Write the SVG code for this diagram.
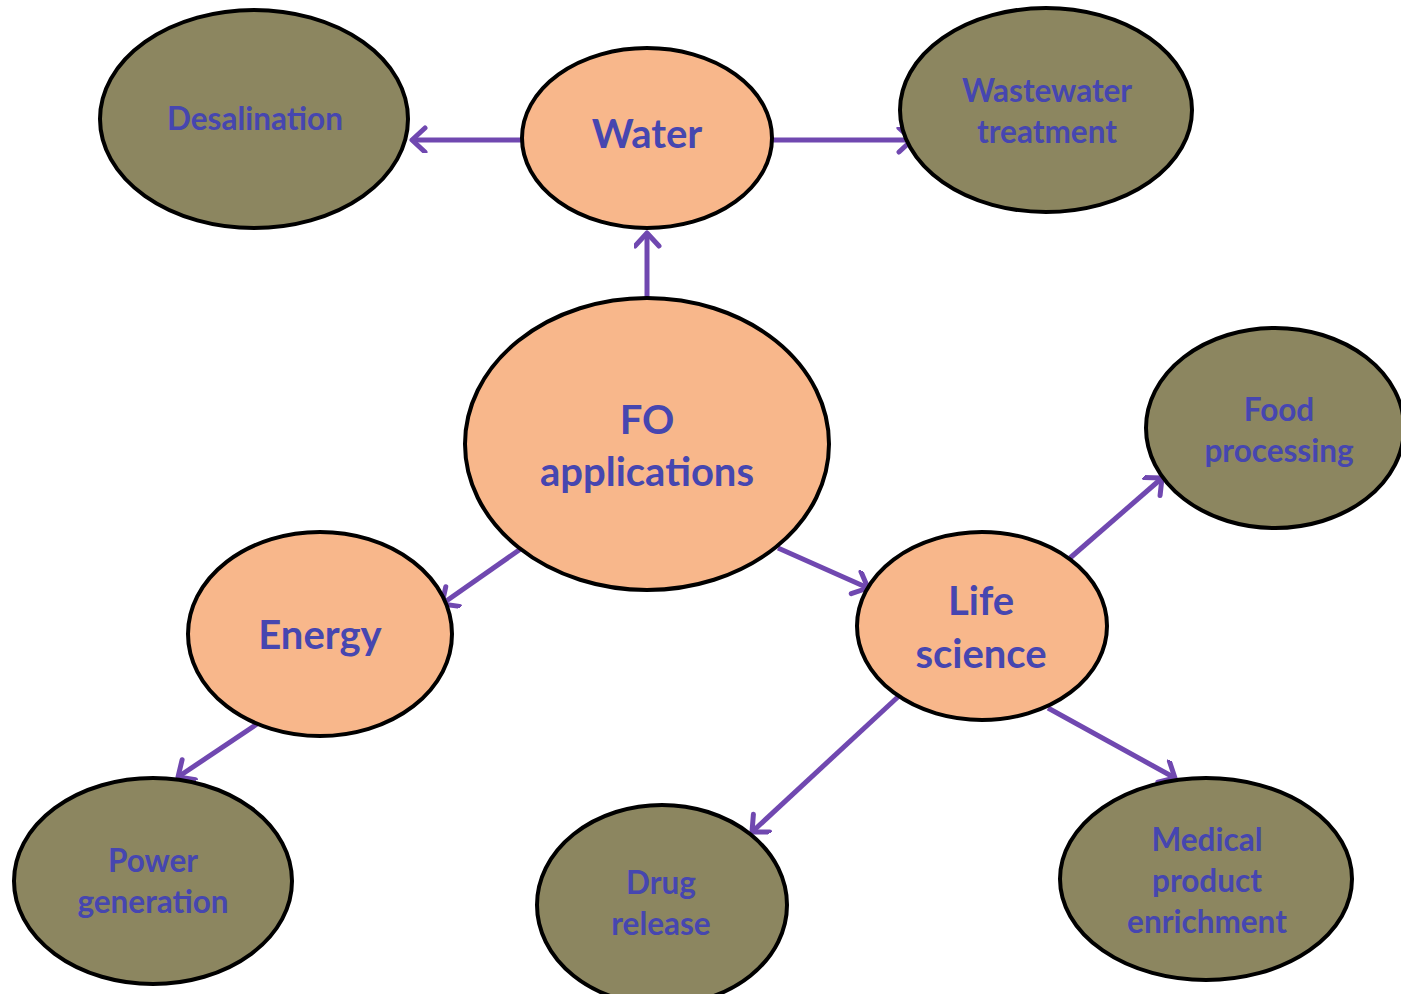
<svg xmlns="http://www.w3.org/2000/svg" width="1401" height="994" viewBox="0 0 1401 994">
<style>
.leaf{fill:#8c8660;stroke:#000;stroke-width:4}
.hub{fill:#f8b78b;stroke:#000;stroke-width:4}
.t{font-family:Lato,"Open Sans","Liberation Sans",sans-serif;font-weight:bold;fill:#4646b0;text-anchor:middle}
.s{font-size:31.5px}
.b{font-size:40px}
.c{stroke:#7048b0;stroke-width:5;fill:none;marker-end:url(#ah)}
</style>
<defs>
<marker id="ah" markerUnits="userSpaceOnUse" markerWidth="32" markerHeight="32" refX="17" refY="13" orient="auto">
<path d="M4,1 L17,13 L4,25" fill="none" stroke="#7048b0" stroke-width="5" stroke-linecap="round" stroke-linejoin="round"/>
</marker>
</defs>
<rect width="1401" height="994" fill="#fff"/>
<g id="connectors">
<line class="c" x1="522" y1="140" x2="412" y2="140"/>
<line class="c" x1="772" y1="140" x2="912" y2="140"/>
<line class="c" x1="647" y1="298" x2="647" y2="233"/>
<line class="c" x1="522" y1="548" x2="442" y2="604"/>
<line class="c" x1="778" y1="548" x2="868" y2="588"/>
<line class="c" x1="1070" y1="558" x2="1162" y2="478"/>
<line class="c" x1="260" y1="722" x2="178" y2="777"/>
<line class="c" x1="900" y1="695" x2="752" y2="832"/>
<line class="c" x1="1048" y1="708" x2="1175" y2="778"/>
</g>
<g id="desalination"><ellipse class="leaf" cx="254" cy="119" rx="154" ry="109"/><text class="t s" x="255" y="130">Desalination</text></g>
<g id="water"><ellipse class="hub" cx="647" cy="138" rx="125" ry="90"/><text class="t b" x="647" y="148">Water</text></g>
<g id="wastewater"><ellipse class="leaf" cx="1046" cy="110" rx="146" ry="102"/><text class="t s" x="1047" y="102">Wastewater</text><text class="t s" x="1047" y="143">treatment</text></g>
<g id="fo"><ellipse class="hub" cx="647" cy="444" rx="182" ry="146"/><text class="t b" x="647" y="434">FO</text><text class="t b" x="647" y="486">applications</text></g>
<g id="food"><ellipse class="leaf" cx="1275" cy="428" rx="129" ry="100"/><text class="t s" x="1279" y="421">Food</text><text class="t s" x="1279" y="462">processing</text></g>
<g id="energy"><ellipse class="hub" cx="320" cy="634" rx="132" ry="102"/><text class="t b" x="320" y="649">Energy</text></g>
<g id="life"><ellipse class="hub" cx="982" cy="626" rx="125" ry="94"/><text class="t b" x="981" y="615">Life</text><text class="t b" x="981" y="668">science</text></g>
<g id="power"><ellipse class="leaf" cx="153" cy="881" rx="139" ry="103"/><text class="t s" x="153" y="872">Power</text><text class="t s" x="153" y="913">generation</text></g>
<g id="drug"><ellipse class="leaf" cx="662" cy="905" rx="125" ry="100"/><text class="t s" x="661" y="894">Drug</text><text class="t s" x="661" y="935">release</text></g>
<g id="medical"><ellipse class="leaf" cx="1206" cy="879" rx="146" ry="101"/><text class="t s" x="1207" y="851">Medical</text><text class="t s" x="1207" y="892">product</text><text class="t s" x="1207" y="933">enrichment</text></g>
</svg>
